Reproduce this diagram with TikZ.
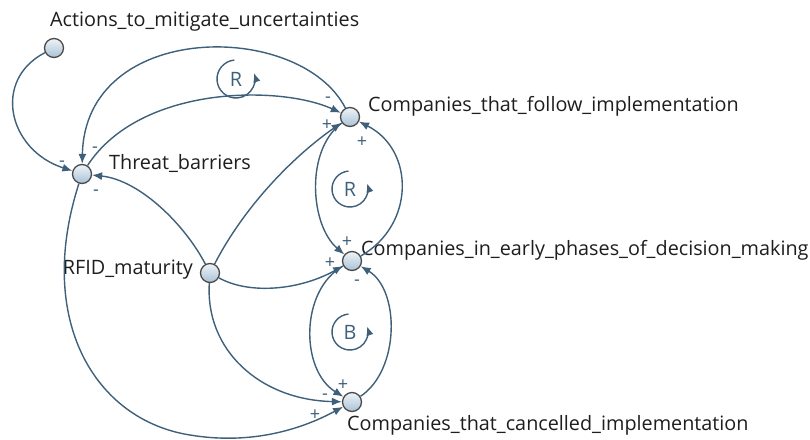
\documentclass[tikz,border=0pt]{standalone}
\usepackage{fontspec}
\setmainfont{Open Sans}
\usetikzlibrary{arrows.meta}
\definecolor{linkc}{HTML}{3E607A}
\definecolor{rimc}{HTML}{4A4A4A}
\definecolor{fillhi}{HTML}{EEF4F9}
\definecolor{filllo}{HTML}{A9C1D4}
\definecolor{txtc}{HTML}{1E1E1E}
\begin{document}
\begin{tikzpicture}[x=1pt,y=-1pt,
  var/.style={circle, draw=rimc, line width=1.3pt, minimum size=19pt, inner sep=0pt,
              top color=fillhi, bottom color=filllo},
  lbl/.style={anchor=west, inner sep=0pt, text=txtc, font=\fontsize{19.8}{22}\selectfont},
  link/.style={draw=linkc, line width=1.4pt, -{Latex[length=10pt,width=8pt]}},
  sgn/.style={text=linkc, inner sep=0pt, font=\fontsize{18}{19}\selectfont},
  loopc/.style={draw=linkc, line width=1.4pt, -{Latex[length=9pt,width=7.5pt]}},
  looplbl/.style={text=linkc, inner sep=0pt, font=\fontsize{19.8}{22}\selectfont}]

\useasboundingbox[fill=white] (0,0) rectangle (810,439);

% variables
\node[var] (act) at (54,48) {};
\node[var] (thr) at (82,174) {};
\node[var] (fol) at (350,117) {};
\node[var] (ear) at (352,261) {};
\node[var] (rfid) at (210,273) {};
\node[var] (can) at (352,402) {};

% variable names
\node[lbl] (actL) at (50,22) {Actions\_to\_mitigate\_uncertainties};
\node[lbl] (thrL) at (109,163) {Threat\_barriers};
\node[lbl] (folL) at (368,106) {Companies\_that\_follow\_implementation};
\node[lbl, anchor=east] (rfidL) at (193,270) {RFID\_maturity};
\node[lbl] (earL) at (361,250) {Companies\_in\_early\_phases\_of\_decision\_making};
\node[lbl] (canL) at (347,425) {Companies\_that\_cancelled\_implementation};

% causal links
\draw[link] (act) .. controls (-8,80) and (8,150) .. (thr);
\draw[link] (fol) .. controls (300,20) and (85,20) .. (thr);
\draw[link] (thr) .. controls (140,85) and (280,85) .. (fol);
\draw[link] (rfid) .. controls (185,225) and (140,180) .. (thr);
\draw[link] (rfid) .. controls (245,205) and (295,155) .. (fol);
\draw[link] (fol) .. controls (305,150) and (310,225) .. (ear);
\draw[link] (ear) .. controls (415,225) and (415,150) .. (fol);
\draw[link] (rfid) .. controls (250,295) and (300,290) .. (ear);
\draw[link] (ear) .. controls (300,290) and (300,370) .. (can);
\draw[link] (can) .. controls (400,370) and (400,290) .. (ear);
\draw[link] (rfid) .. controls (205,350) and (260,400) .. (can);
\coordinate (bend) at (190,435);
\draw[link] (thr) .. controls (35,320) and (95,420) .. (bend)
                  .. controls (250,445) and (300,430) .. (can);

% polarities
\node[sgn] (s1) at (62,164) {-};
\node[sgn] (s2) at (95,150) {-};
\node[sgn] (s3) at (96,193) {-};
\node[sgn] (s4) at (328,100) {-};
\node[sgn] (s5) at (327,125) {+};
\node[sgn] (s6) at (362,142) {+};
\node[sgn] (s7) at (347,242) {+};
\node[sgn] (s8) at (330,263) {+};
\node[sgn] (s9) at (357,283) {-};
\node[sgn] (s10) at (343,385) {+};
\node[sgn] (s11) at (325,397) {-};
\node[sgn] (s12) at (315,415) {+};

% loop markers
\coordinate (lp1) at (236,79);
\coordinate (lp2) at (350,189);
\coordinate (lp3) at (350,332);
\draw[loopc] (lp1) ++(-95:19) arc[start angle=-95, end angle=-378, radius=19];
\draw[loopc] (lp2) ++(-95:18) arc[start angle=-95, end angle=-378, radius=18];
\draw[loopc] (lp3) ++(-95:18) arc[start angle=-95, end angle=-378, radius=18];
\node[looplbl] (lt1) at (236,79) {R};
\node[looplbl] (lt2) at (350,189) {R};
\node[looplbl] (lt3) at (350,332) {B};
\end{tikzpicture}
\end{document}
